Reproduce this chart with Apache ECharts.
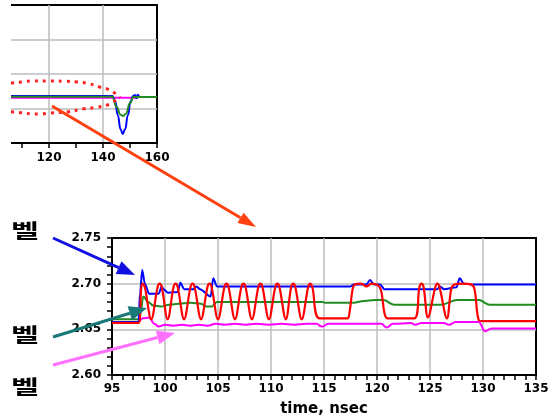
<!DOCTYPE html>
<html>
<head>
<meta charset="utf-8">
<script src="https://cdn.jsdelivr.net/npm/echarts@6/dist/echarts.min.js"></script>
<style>
html, body { margin: 0; padding: 0; background: #fff; }
#chart { width: 549px; height: 418px; }
</style>
</head>
<body>
<div id="chart"></div>
<script>
// main plot: time (nsec) vs voltage
const xTicks = [95, 100, 105, 110, 115, 120, 125, 130, 135];
const yTicks = [2.60, 2.65, 2.70, 2.75];

const redTime = [95, 97.5, 97.75, 97.9, 98.1, 98.7, 99.3, 99.5, 99.7, 100.25, 100.8, 101.0, 101.2, 101.8, 102.4, 102.6, 102.8, 103.4, 104.0, 104.2, 104.4, 105.0, 105.6, 105.8, 106.0, 106.6, 107.2, 107.4, 107.6, 108.2, 108.8, 109.0, 109.2, 109.8, 110.4, 110.6, 110.8, 111.4, 111.9, 112.1, 112.3, 112.9, 113.5, 113.7, 113.9, 114.6, 117.2, 117.4, 117.7, 117.9, 118.5, 119.0, 119.5, 120.1, 120.4, 120.7, 121.0, 123.5, 124.0, 124.2, 124.4, 124.8, 125.5, 125.7, 125.9, 126.6, 127.0, 127.3, 128.0, 128.9, 129.2, 129.6, 130.0, 135];
const redVolt = [2.657, 2.657, 2.694, 2.700, 2.696, 2.661, 2.696, 2.700, 2.696, 2.661, 2.696, 2.700, 2.696, 2.661, 2.696, 2.700, 2.696, 2.661, 2.696, 2.700, 2.696, 2.661, 2.696, 2.700, 2.696, 2.661, 2.696, 2.700, 2.696, 2.661, 2.696, 2.700, 2.696, 2.661, 2.696, 2.700, 2.696, 2.661, 2.696, 2.700, 2.696, 2.661, 2.696, 2.700, 2.696, 2.662, 2.662, 2.668, 2.694, 2.699, 2.700, 2.697, 2.700, 2.698, 2.692, 2.668, 2.662, 2.662, 2.696, 2.700, 2.696, 2.663, 2.696, 2.700, 2.696, 2.662, 2.694, 2.699, 2.700, 2.699, 2.694, 2.660, 2.659, 2.659];

const blueTime = [95, 97.5, 97.65, 97.85, 98.1, 98.5, 99.4, 99.7, 99.85, 100.3, 101.2, 101.45, 101.8, 102.7, 102.95, 103.3, 104.3, 104.55, 104.9, 105.5, 117.5, 117.8, 119.0, 119.35, 119.7, 120.3, 120.7, 125.7, 125.95, 126.3, 127.5, 127.8, 128.2, 129.0, 135];
const blueVolt = [2.658, 2.658, 2.690, 2.715, 2.700, 2.689, 2.689, 2.697, 2.694, 2.690, 2.691, 2.701, 2.694, 2.694, 2.697, 2.694, 2.686, 2.706, 2.697, 2.697, 2.697, 2.699, 2.699, 2.704, 2.699, 2.699, 2.694, 2.694, 2.697, 2.694, 2.696, 2.706, 2.700, 2.699, 2.699];

const greenTime = [95, 97.5, 97.7, 97.95, 98.4, 98.9, 99.6, 100.4, 101.3, 102.4, 103.4, 103.9, 104.4, 104.9, 105.4, 114.8, 115.2, 117.6, 118.8, 119.8, 120.6, 121.6, 126.0, 127.6, 129.6, 130.6, 135];
const greenVolt = [2.661, 2.661, 2.668, 2.686, 2.680, 2.676, 2.675, 2.677, 2.678, 2.679, 2.678, 2.675, 2.675, 2.680, 2.680, 2.680, 2.679, 2.679, 2.681, 2.682, 2.682, 2.677, 2.677, 2.682, 2.682, 2.677, 2.677];

const pinkTime = [95, 97.4, 97.9, 98.5, 99.0, 99.4, 100.0, 100.8, 101.6, 102.4, 103.2, 104.0, 104.8, 105.6, 106.6, 107.6, 108.6, 109.8, 111.0, 112.2, 113.4, 114.3, 114.8, 115.4, 120.4, 120.9, 121.5, 123.2, 123.6, 124.2, 126.3, 126.8, 127.4, 129.6, 130.2, 130.8, 135];
const pinkVolt = [2.657, 2.657, 2.662, 2.663, 2.656, 2.653, 2.655, 2.654, 2.655, 2.654, 2.655, 2.654, 2.656, 2.655, 2.656, 2.655, 2.656, 2.655, 2.656, 2.655, 2.656, 2.656, 2.653, 2.656, 2.656, 2.652, 2.656, 2.657, 2.655, 2.657, 2.657, 2.655, 2.658, 2.658, 2.648, 2.651, 2.651];

// inset plot (cropped at its left side)
const insetTicks = [100, 120, 140, 160];
const insetBlueTime = [100, 143.5, 144.5, 145.5, 146.5, 147.3, 148.2, 149.2, 150.2, 151.2, 151.8, 152.3, 152.9, 153.5, 155];
const insetBlueVal = [1.36, 1.36, 1.2, 0.8, 0.4, 0.26, 0.4, 0.8, 1.2, 1.36, 1.39, 1.30, 1.40, 1.33, 1.33];
const insetGreenTime = [100, 143.5, 145, 146.5, 147.5, 148.5, 150, 151.2, 160];
const insetGreenVal = [1.34, 1.34, 1.05, 0.82, 0.78, 0.85, 1.15, 1.33, 1.33];
const insetPinkTime = [100, 153];
const insetPinkVal = [1.31, 1.31];
const ovalTopTime = [100, 106.3, 110, 114.1, 120.4, 125.5, 130.4, 135.2, 138.9, 141.5, 143.7, 146.3];
const ovalTopVal = [1.70, 1.74, 1.77, 1.80, 1.80, 1.79, 1.77, 1.71, 1.62, 1.57, 1.48, 1.32];
const ovalLowTime = [100, 106.7, 116.7, 120.4, 126.7, 132.6, 137.8, 141.5, 143.7, 146.3];
const ovalLowVal = [0.93, 0.90, 0.84, 0.87, 0.90, 0.99, 1.04, 1.10, 1.19, 1.30];

const zip = (a, b) => a.map((v, i) => [v, b[i]]);

const labelFont = { color: '#000', fontFamily: 'DejaVu Sans', fontWeight: 'bold', fontSize: 12 };
const tickStyle = { color: '#000', width: 1.5 };
const gridLine = { show: true, showMinLine: false, showMaxLine: false, lineStyle: { color: '#bcbcbc', width: 1.5 } };

function arrow(x1, y1, x2, y2, color, headLen, headW) {
    const a = Math.atan2(y2 - y1, x2 - x1);
    const bx = x2 - headLen * Math.cos(a), by = y2 - headLen * Math.sin(a);
    const px = -Math.sin(a) * headW / 2, py = Math.cos(a) * headW / 2;
    return [
        { type: 'line', z: 100, shape: { x1: x1, y1: y1, x2: bx, y2: by }, style: { stroke: color, lineWidth: 3 } },
        { type: 'polygon', z: 100, shape: { points: [[x2, y2], [bx + px, by + py], [bx - px, by - py]] }, style: { fill: color } }
    ];
}

function mark(y) {
    return {
        type: 'text', z: 100, x: 25, y: y, scaleX: 1.6,
        style: { text: '벨', font: 'bold 19px "Noto Sans CJK KR"', fill: '#000', textAlign: 'center', textVerticalAlign: 'middle' }
    };
}

const myChart = echarts.init(document.getElementById('chart'));

const option = {
    animation: false,
    backgroundColor: '#fff',
    grid: [
        { left: 112, top: 238, width: 424, height: 137, show: true, borderColor: '#000', borderWidth: 2, outerBoundsMode: 'none' },
        { left: -5, top: 5, width: 162, height: 138, show: true, borderColor: '#000', borderWidth: 2, outerBoundsMode: 'none' }
    ],
    xAxis: [
        {
            type: 'value', gridIndex: 0,
            min: xTicks[0], max: xTicks[xTicks.length - 1], interval: xTicks[1] - xTicks[0],
            name: 'time, nsec', nameLocation: 'middle', nameGap: 27,
            nameTextStyle: { color: '#000', fontFamily: 'DejaVu Sans', fontWeight: 'bold', fontSize: 15 },
            axisLine: { lineStyle: { color: '#000', width: 2 } },
            axisTick: { show: true, length: 5, lineStyle: tickStyle },
            minorTick: { show: true, splitNumber: 5, length: 5, lineStyle: tickStyle },
            axisLabel: Object.assign({ margin: 8 }, labelFont),
            splitLine: gridLine
        },
        {
            type: 'value', gridIndex: 1,
            min: insetTicks[0], max: insetTicks[insetTicks.length - 1], interval: insetTicks[1] - insetTicks[0],
            axisLine: { lineStyle: { color: '#000', width: 2 } },
            axisTick: { show: true, length: 5, lineStyle: tickStyle },
            minorTick: { show: true, splitNumber: 2, length: 5, lineStyle: tickStyle },
            axisLabel: Object.assign({ margin: 9, showMinLabel: false }, labelFont),
            splitLine: gridLine
        }
    ],
    yAxis: [
        {
            type: 'value', gridIndex: 0,
            min: yTicks[0], max: yTicks[yTicks.length - 1], interval: 0.05,
            axisLine: { show: true, lineStyle: { color: '#000', width: 2 } },
            axisTick: { show: true, length: 5, lineStyle: tickStyle },
            minorTick: { show: true, splitNumber: 5, length: 5, lineStyle: tickStyle },
            axisLabel: Object.assign({ margin: 11, formatter: v => v.toFixed(2) }, labelFont),
            splitLine: gridLine
        },
        {
            type: 'value', gridIndex: 1, min: 0, max: 4, interval: 1,
            axisLine: { show: true, lineStyle: { color: '#000', width: 2 } },
            axisTick: { show: false },
            axisLabel: { show: false },
            splitLine: gridLine
        }
    ],
    series: [
        { type: 'line', xAxisIndex: 0, yAxisIndex: 0, data: zip(pinkTime, pinkVolt), showSymbol: false, smooth: 0.4, smoothMonotone: 'x', lineStyle: { color: '#ff00ff', width: 2 } },
        { type: 'line', xAxisIndex: 0, yAxisIndex: 0, data: zip(greenTime, greenVolt), showSymbol: false, smooth: 0.4, smoothMonotone: 'x', lineStyle: { color: '#228b22', width: 2 } },
        { type: 'line', xAxisIndex: 0, yAxisIndex: 0, data: zip(blueTime, blueVolt), showSymbol: false, smooth: 0.3, smoothMonotone: 'x', lineStyle: { color: '#0000ff', width: 2 } },
        { type: 'line', xAxisIndex: 0, yAxisIndex: 0, data: zip(redTime, redVolt), showSymbol: false, smooth: 0.35, lineStyle: { color: '#ff0000', width: 2.2 } },

        { type: 'line', xAxisIndex: 1, yAxisIndex: 1, data: zip(insetPinkTime, insetPinkVal), showSymbol: false, lineStyle: { color: '#ff00ff', width: 2 } },
        { type: 'line', xAxisIndex: 1, yAxisIndex: 1, data: zip(insetBlueTime, insetBlueVal), showSymbol: false, smooth: 0.5, smoothMonotone: 'x', lineStyle: { color: '#0000ff', width: 2 } },
        { type: 'line', xAxisIndex: 1, yAxisIndex: 1, data: zip(insetGreenTime, insetGreenVal), showSymbol: false, smooth: 0.5, smoothMonotone: 'x', lineStyle: { color: '#228b22', width: 2 } },
        { type: 'line', xAxisIndex: 1, yAxisIndex: 1, data: zip(ovalTopTime, ovalTopVal), showSymbol: false, smooth: true, lineStyle: { color: '#ff2020', width: 3, type: [3, 5] } },
        { type: 'line', xAxisIndex: 1, yAxisIndex: 1, data: zip(ovalLowTime, ovalLowVal), showSymbol: false, smooth: true, lineStyle: { color: '#ff2020', width: 3, type: [3, 5] } }
    ],
    graphic: [
        // the inset is cut off at its left edge
        { type: 'rect', z: 90, shape: { x: 0, y: 0, width: 11, height: 152 }, style: { fill: '#fff' } },
        ...arrow(52, 106, 256, 227, '#ff4010', 18, 12),
        ...arrow(53, 238, 135, 275, '#1010e0', 18, 14),
        ...arrow(53, 337, 147, 308, '#1a7878', 18, 15),
        ...arrow(53, 365, 175, 333, '#ff70ff', 18, 14),
        mark(231),
        mark(335),
        mark(387)
    ]
};

myChart.setOption(option);
</script>
</body>
</html>
